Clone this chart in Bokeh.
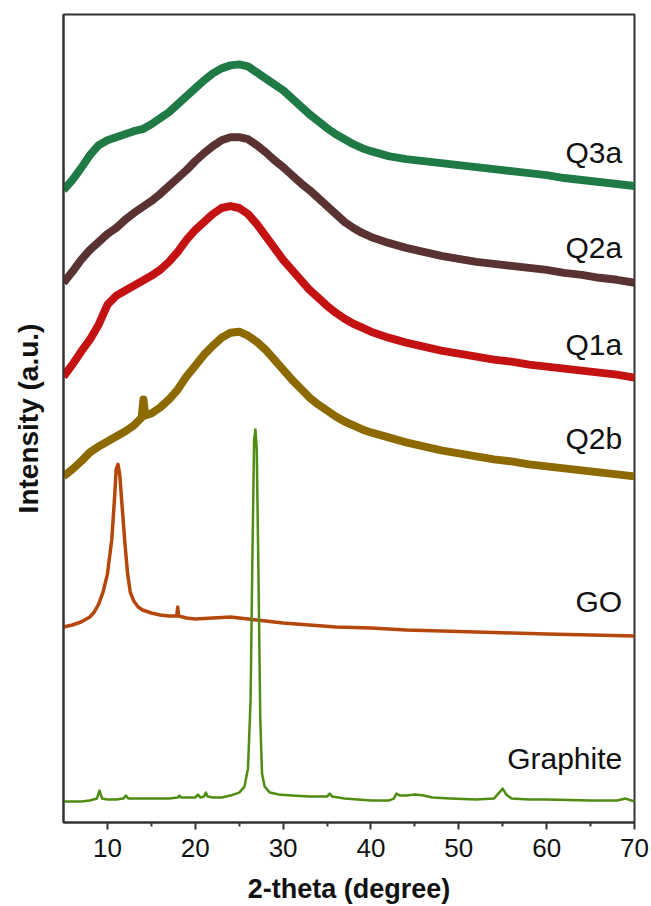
from bokeh.plotting import figure
from bokeh.models import Range1d, FixedTicker, ColumnDataSource
from bokeh.core.properties import value
from bokeh.embed import file_html
from bokeh.resources import INLINE

# ---- data (intensity in arbitrary units) ----
q3a_x = [5, 6, 7, 8, 9, 10, 11, 12, 13, 14, 15, 16, 17, 18, 19, 20, 21, 22, 23, 24, 25, 26, 27, 28, 29, 30,
         31, 32, 33, 34, 35, 36, 37, 38, 39, 40, 42, 44, 46, 48, 50, 52, 54, 56, 58, 60, 62, 64, 66, 68, 70]
q3a_y = [634, 644, 656, 669, 679, 684, 687, 690, 693, 695, 700, 706, 712, 720, 728, 736, 744, 751, 756, 759,
         760, 758, 752, 746, 740, 734, 726, 718, 710, 703, 696, 690, 685, 680, 676, 673, 668, 665, 663, 661,
         659, 657, 655, 653, 651, 649, 646, 644, 642, 640, 638]

q2a_x = q3a_x
q2a_y = [541, 552, 564, 574, 582, 590, 596, 604, 611, 617, 623, 630, 638, 646, 654, 663, 671, 678, 684, 687,
         687, 685, 679, 672, 664, 657, 649, 641, 634, 626, 618, 610, 602, 596, 591, 587, 581, 576, 572, 568,
         565, 562, 560, 558, 556, 554, 551, 549, 546, 544, 541]

q1a_x = q3a_x
q1a_y = [447, 459, 472, 484, 499, 519, 528, 533, 538, 543, 548, 554, 562, 572, 584, 594, 602, 610, 616, 618,
         616, 610, 600, 588, 576, 564, 554, 544, 534, 526, 518, 511, 505, 500, 496, 492, 486, 481, 477, 473,
         470, 467, 464, 462, 459, 457, 455, 453, 451, 449, 446]

q2b_x = [5, 6, 7, 8, 9, 10, 11, 12, 13, 13.9, 14.1, 14.3, 15, 16, 17, 18, 19, 20, 21, 22, 23, 24, 25, 26, 27,
         28, 29, 30, 31, 32, 33, 34, 35, 36, 37, 38, 39, 40, 42, 44, 46, 48, 50, 52, 54, 56, 58, 60, 62, 64,
         66, 68, 70]
q2b_y = [347, 354, 362, 371, 377, 382, 387, 392, 398, 406, 424, 408, 410, 416, 424, 434, 447, 458, 469, 478,
         486, 491, 492, 488, 482, 474, 464, 454, 444, 435, 426, 419, 413, 407, 402, 398, 394, 391, 386, 381,
         377, 373, 370, 367, 364, 362, 359, 357, 355, 353, 351, 349, 347]

go_x = [5, 6, 7, 8, 8.5, 9, 9.5, 10, 10.5, 10.8, 11.0, 11.2, 11.4, 11.7, 12.0, 12.3, 12.6, 13, 13.5, 14, 15,
        16, 17, 17.9, 18.0, 18.1, 19, 20, 22, 24, 26, 28, 30, 33, 36, 40, 44, 48, 52, 56, 60, 65, 70]
go_y = [196, 198, 201, 206, 211, 219, 231, 249, 284, 324, 354, 359, 349, 314, 279, 249, 231, 222, 216, 213,
        210, 208, 207, 207, 216, 207, 205, 204, 205, 206, 204, 202, 200, 198, 196, 195, 193, 192, 191, 190,
        189, 188, 187]

gr_x = [5, 6, 7, 8, 8.8, 9.1, 9.4, 10, 11, 11.8, 12.1, 12.4, 13, 15, 17, 18, 18.2, 18.4, 20, 20.3, 20.6, 21,
        21.2, 21.4, 22, 23, 24, 25, 25.6, 26.0, 26.3, 26.5, 26.7, 26.85, 27.0, 27.2, 27.4, 27.6, 27.9, 28.5,
        29.5, 31, 33, 35, 35.3, 35.6, 37, 40, 42, 42.6, 42.9, 43.3, 44, 45, 46, 47, 49, 52, 54, 54.7, 55.0,
        55.4, 56, 58, 60, 65, 68, 69, 70]
gr_y = [21, 21, 21, 22, 24, 32, 24, 23, 23, 24, 27, 24, 24, 24, 24, 25, 27, 25, 25, 28, 25, 26, 30, 26, 25,
        25, 27, 30, 36, 54, 124, 264, 384, 394, 374, 244, 104, 49, 36, 30, 28, 27, 26, 26, 29, 26, 24, 22,
        22, 24, 29, 27, 27, 28, 27, 25, 24, 23, 24, 31, 34, 28, 24, 23, 23, 22, 22, 24, 21]

names = ["Q3a", "Q2a", "Q1a", "Q2b", "GO", "Graphite"]
colors = ["#1f7a45", "#5a3232", "#c41212", "#8c6a00", "#b5470b", "#4e8c12"]
label_x = [68.6, 68.6, 68.6, 68.6, 68.6, 68.6]
label_y = [672, 576, 479, 385, 222, 64]

x_ticks = [10, 20, 30, 40, 50, 60, 70]
x_minor = [15, 25, 35, 45, 55, 65]

FONT = "Liberation Sans"

p = figure(width=651, height=906, output_backend="svg", toolbar_location=None,
           x_range=Range1d(5, 70), y_range=Range1d(0, 810),
           min_border_left=63, min_border_right=17, min_border_top=14, min_border_bottom=82)
p.background_fill_color = "white"
p.border_fill_color = "white"
p.xgrid.visible = False
p.ygrid.visible = False
p.outline_line_color = "#333333"
p.outline_line_width = 2

series = [(q3a_x, q3a_y, 8), (q2a_x, q2a_y, 8), (q1a_x, q1a_y, 8), (q2b_x, q2b_y, 8),
          (go_x, go_y, 3.5), (gr_x, gr_y, 2.5)]
for (xs, ys, w), c in zip(series, colors):
    p.line(xs, ys, line_color=c, line_width=w, line_join="round")

src = ColumnDataSource(dict(x=label_x, y=label_y, t=names))
p.text("x", "y", text="t", source=src, text_align="right", text_baseline="middle",
       text_font=value(FONT), text_font_size="30px", text_color="#111111")

xa = p.xaxis[0]
xa.ticker = FixedTicker(ticks=x_ticks, minor_ticks=x_minor)
xa.axis_label = "2-theta (degree)"
xa.axis_label_text_font = FONT
xa.axis_label_text_font_style = "bold"
xa.axis_label_text_font_size = "27px"
xa.axis_label_text_color = "#111111"
xa.axis_label_standoff = 14
xa.major_label_text_font = FONT
xa.major_label_text_font_size = "26px"
xa.major_label_text_color = "#111111"
xa.major_label_standoff = 9
xa.major_tick_in = 0
xa.major_tick_out = 7
xa.minor_tick_in = 0
xa.minor_tick_out = 4
xa.axis_line_width = 2
xa.axis_line_color = "#333333"
xa.major_tick_line_width = 2
xa.minor_tick_line_width = 2
xa.major_tick_line_color = "#333333"
xa.minor_tick_line_color = "#333333"

ya = p.yaxis[0]
ya.ticker = FixedTicker(ticks=[])
ya.major_tick_out = 0
ya.major_tick_in = 0
ya.minor_tick_out = 0
ya.minor_tick_in = 0
ya.major_label_text_font_size = "0px"
ya.axis_label = "Intensity (a.u.)"
ya.axis_label_text_font = FONT
ya.axis_label_text_font_style = "bold"
ya.axis_label_text_font_size = "28px"
ya.axis_label_text_color = "#111111"
ya.axis_label_standoff = 20
ya.axis_line_width = 2
ya.axis_line_color = "#333333"

open("out.html", "w").write(file_html(p, INLINE))
